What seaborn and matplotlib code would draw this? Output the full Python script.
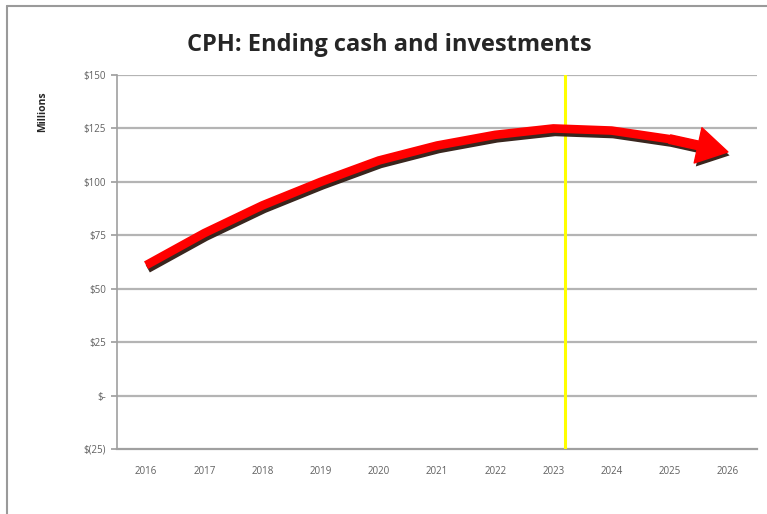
import matplotlib
matplotlib.use("Agg")
import matplotlib.pyplot as plt
import matplotlib.patheffects as pe
import seaborn as sns
import pandas as pd

years = ["2016", "2017", "2018", "2019", "2020", "2021", "2022", "2023", "2024", "2025", "2026"]
cash = [61, 76, 89, 100, 110, 117, 122, 125, 124, 120, 114]
y_ticks = [-25, 0, 25, 50, 75, 100, 125, 150]
y_labels = ["$(25)", "$-", "$25", "$50", "$75", "$100", "$125", "$150"]
marker_year = "2023"

sns.set_theme(style="white")
plt.rcParams["font.family"] = ["Open Sans", "DejaVu Sans"]

fig = plt.figure(figsize=(7.67, 5.14), dpi=100)
ax = fig.add_axes([117 / 767, 1 - 449 / 514, (757 - 117) / 767, (449 - 75) / 514])

df = pd.DataFrame({"year": years, "cash": cash})
df["pos"] = range(len(years))
body = df.iloc[:-1]

for t in y_ticks[1:]:
    ax.axhline(t, color="#b4b4b4", lw=1.6, zorder=0)

shadow = [pe.SimpleLineShadow(offset=(1.2, -2.5), shadow_color="#2e1a12", alpha=0.95), pe.Normal()]
sns.lineplot(data=body, x="pos", y="cash", ax=ax, color="#ff0000", lw=6.2,
             solid_capstyle="butt", solid_joinstyle="round", sort=False,
             path_effects=shadow, zorder=5)

n = len(years)
ax.annotate("", xy=(n - 1, cash[-1]), xytext=(n - 2, cash[-2]),
            arrowprops=dict(facecolor="#ff0000", edgecolor="#ff0000", width=6.2,
                            headwidth=26, headlength=22, shrink=0,
                            path_effects=[pe.SimplePatchShadow(offset=(1.2, -2.5), shadow_rgbFace="#2e1a12", alpha=0.95),
                                          pe.Normal()]),
            zorder=6)

idx_m = years.index(marker_year)
ax.axvline(idx_m + 0.2, color="#ffff00", lw=2.2, zorder=4)

ax.set_xlim(-0.5, n - 0.5)
ax.set_ylim(-25, 150)
ax.set_yticks(y_ticks)
ax.set_yticklabels(y_labels)
ax.set_xticks(range(n))
ax.set_xticklabels(years)

ax.set_xlabel("")
ax.set_ylabel("")
for s in ["top", "right"]:
    ax.spines[s].set_visible(False)
ax.spines["left"].set_color("#a0a0a0")
ax.spines["bottom"].set_color("#a0a0a0")
ax.spines["left"].set_linewidth(1.2)
ax.spines["bottom"].set_linewidth(1.6)
ax.tick_params(axis="y", which="both", left=True, length=4, color="#a0a0a0",
               labelsize=7, labelcolor="#606060", pad=4)
ax.tick_params(axis="x", bottom=False, labelsize=7, labelcolor="#606060", pad=6)

fig.text(389 / 767, 1 - 45 / 514, "CPH: Ending cash and investments", ha="center", va="center",
         fontsize=17, fontweight="bold", color="#262626")
fig.text(43 / 767, 1 - 112 / 514, "Millions", rotation=90, ha="center", va="center",
         fontsize=7.5, fontweight="bold", color="#262626")

# outer frame (left & top)
fig.add_artist(plt.Line2D([7 / 767, 7 / 767], [0, 1 - 6 / 514], color="#9a9a9a", lw=1.5))
fig.add_artist(plt.Line2D([7 / 767, 1], [1 - 6 / 514, 1 - 6 / 514], color="#9a9a9a", lw=1.5))

fig.savefig("out.png", dpi=100)
